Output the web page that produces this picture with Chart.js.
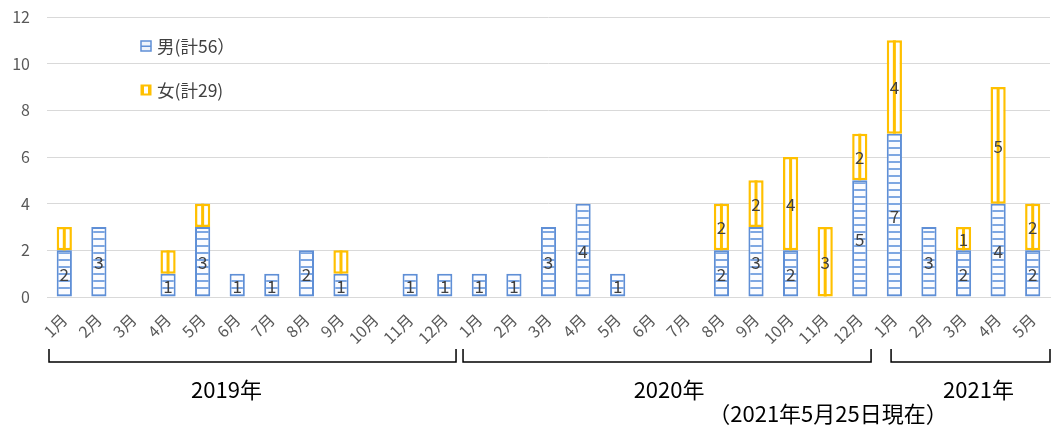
<!DOCTYPE html>
<html><head><meta charset="utf-8">
<script src="https://cdn.jsdelivr.net/npm/chart.js@4/dist/chart.umd.min.js"></script>
<style>html,body{margin:0;padding:0;background:#fff;overflow:hidden}</style>
</head><body>
<canvas id="c" width="1052" height="426"></canvas>
<script>
// ---- data ----
const months = ['1月','2月','3月','4月','5月','6月','7月','8月','9月','10月','11月','12月',
                '1月','2月','3月','4月','5月','6月','7月','8月','9月','10月','11月','12月',
                '1月','2月','3月','4月','5月'];
const male   = [2,3,0,1,3,1,1,2,1,0,1,1, 1,1,3,4,1,0,0,2,3,2,0,5, 7,3,2,4,2];
const female = [1,0,0,1,1,0,0,0,1,0,0,0, 0,0,0,0,0,0,0,2,2,4,3,2, 4,0,1,5,2];
const hiddenFemaleLabels = [0,3,4,8];
const seriesNames = ['男(計56）','女(計29)'];
const yTicks = [0,2,4,6,8,10,12];
const years = [
  {label:'2019年', start:0,  end:11},
  {label:'2020年', start:12, end:23},
  {label:'2021年', start:24, end:28}
];
const note = '（2021年5月25日現在）';

// ---- styles ----
const FF = "'Noto Sans CJK JP','Noto Sans',sans-serif";
const BLUE = '#5f8fd6', BLUE_L = '#7ea7e2', YEL = '#ffc000';
const bracketStyle = [
  {inL:2,  inR:6, dx:-26},
  {inL:1,  inR:6, dx:2},
  {inL:14, inR:0, dx:8}
];

const pc = document.createElement('canvas'); pc.width = 4; pc.height = 7;
const pctx = pc.getContext('2d');
pctx.fillStyle = '#fbfcff'; pctx.fillRect(0,0,4,7);
pctx.fillStyle = BLUE_L; pctx.fillRect(0,0,4,2);
const malePattern = pctx.createPattern(pc, 'repeat');

const overlay = {
  id:'overlay',
  afterDatasetsDraw(chart){
    const ctx = chart.ctx;
    const fm = chart.getDatasetMeta(1);
    ctx.save();
    ctx.fillStyle = YEL;
    fm.data.forEach((el,i)=>{
      if(!female[i]) return;
      const top = Math.min(el.y, el.base), h = Math.abs(el.base - el.y);
      ctx.fillRect(el.x - 1.5, top, 3, h);
    });
    ctx.font = '17px ' + FF;
    ctx.fillStyle = '#404040';
    ctx.textAlign = 'center'; ctx.textBaseline = 'middle';
    [0,1].forEach(d=>{
      const meta = chart.getDatasetMeta(d);
      const vals = d===0 ? male : female;
      meta.data.forEach((el,i)=>{
        if(!vals[i]) return;
        if(d===1 && hiddenFemaleLabels.includes(i)) return;
        ctx.fillText(String(vals[i]), el.x, (el.y + el.base)/2 + 1);
      });
    });
    ctx.restore();
  },
  afterDraw(chart){
    const ctx = chart.ctx, xs = chart.scales.x;
    const half = (xs.getPixelForValue(1) - xs.getPixelForValue(0))/2;
    ctx.save();
    const lx = 141;
    [[46,0],[90,1]].forEach(([cy,d])=>{
      if(d===0){
        ctx.fillStyle = '#eef3fb'; ctx.fillRect(lx, cy-5, 10, 10);
        ctx.strokeStyle = BLUE; ctx.lineWidth = 1.5; ctx.strokeRect(lx, cy-5, 10, 10);
        ctx.fillStyle = BLUE; ctx.fillRect(lx, cy-0.5, 10, 1.5);
      } else {
        ctx.fillStyle = YEL; ctx.fillRect(lx-0.5, cy-5.5, 11, 11);
        ctx.fillStyle = '#fff'; ctx.fillRect(lx+3, cy-3.5, 4, 7);
      }
      ctx.fillStyle = '#404040'; ctx.font = '17.5px ' + FF;
      ctx.textAlign = 'left'; ctx.textBaseline = 'middle';
      ctx.fillText(seriesNames[d], lx + 16, cy);
    });
    ctx.strokeStyle = '#000'; ctx.lineWidth = 1.5;
    ctx.fillStyle = '#000'; ctx.font = '22px ' + FF;
    ctx.textAlign = 'center'; ctx.textBaseline = 'middle';
    years.forEach((g,k)=>{
      const st = bracketStyle[k];
      const L = xs.getPixelForValue(g.start) - half + st.inL;
      const R = Math.min(xs.getPixelForValue(g.end) + half - st.inR, chart.width - 1);
      ctx.beginPath();
      ctx.moveTo(L, 349); ctx.lineTo(L, 362); ctx.lineTo(R, 362); ctx.lineTo(R, 349);
      ctx.stroke();
      ctx.fillText(g.label, (L+R)/2 + st.dx, 390);
    });
    ctx.fillText(note, 828, 414);
    ctx.restore();
  }
};

new Chart(document.getElementById('c'), {
  type:'bar',
  data:{
    labels: months,
    datasets:[
      {label:seriesNames[0], data: male.map(v=>v||null), backgroundColor: malePattern,
       borderColor: BLUE, borderWidth: 2, borderSkipped:false,
       categoryPercentage:1, barPercentage:0.44},
      {label:seriesNames[1], data: female.map(v=>v||null), backgroundColor:'#ffffff',
       borderColor: YEL, borderWidth: 2.5, borderSkipped:false,
       categoryPercentage:1, barPercentage:0.44}
    ]
  },
  options:{
    responsive:false, animation:false, devicePixelRatio:1,
    layout:{padding:{top:17,right:2,left:0,bottom:0}},
    plugins:{legend:{display:false}, tooltip:{enabled:false}},
    scales:{
      x:{stacked:true,
         grid:{display:false},
         border:{display:true, color:'#d9d9d9', width:1},
         ticks:{autoSkip:false, maxRotation:45, minRotation:45, padding:5,
                color:'#595959', font:{family:FF, size:16}},
         afterFit(s){ s.height = 129; }},
      y:{stacked:true, min:0, max:12,
         afterBuildTicks(s){ s.ticks = yTicks.map(v=>({value:v})); },
         grid:{color:'#d9d9d9', drawTicks:false},
         border:{display:false},
         ticks:{padding:17, color:'#595959', font:{family:FF, size:16}},
         afterFit(s){ s.width = 47; s.paddingTop = 0; s.paddingBottom = 0; }}
    }
  },
  plugins:[overlay]
});
</script>
</body></html>
